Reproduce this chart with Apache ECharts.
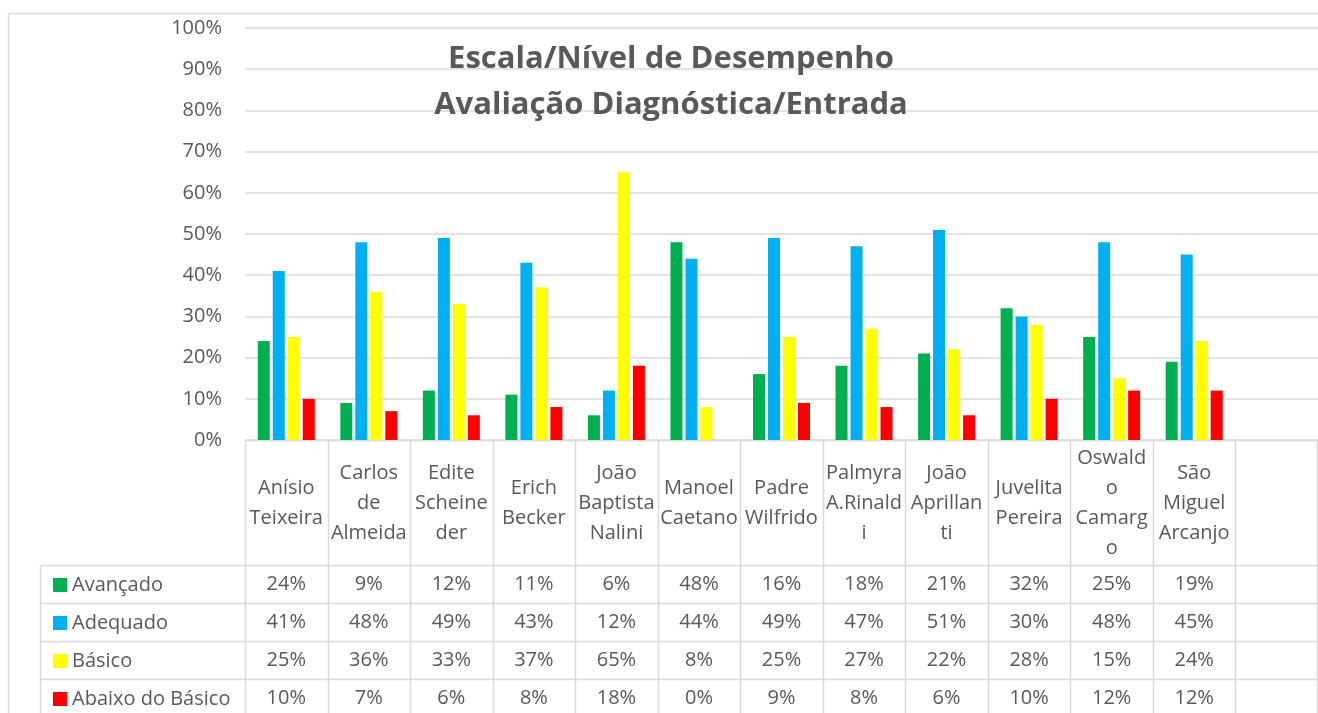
<!DOCTYPE html>
<html>
<head>
<meta charset="utf-8">
<script src="https://cdn.jsdelivr.net/npm/echarts@6/dist/echarts.min.js"></script>
<style>
html, body { margin: 0; padding: 0; background: #fff; }
#chart { width: 1318px; height: 713px; }
</style>
</head>
<body>
<div id="chart"></div>
<script>
// categories (last slot is empty, as in the original sheet)
var schools = ['Anísio\nTeixeira', 'Carlos\nde\nAlmeida', 'Edite\nScheine\nder', 'Erich\nBecker',
  'João\nBaptista\nNalini', 'Manoel\nCaetano', 'Padre\nWilfrido', 'Palmyra\nA.Rinald\ni',
  'João\nAprillan\nti', 'Juvelita\nPereira', 'Oswald\no\nCamarg\no', 'São\nMiguel\nArcanjo', ''];
var avancado = [24, 9, 12, 11, 6, 48, 16, 18, 21, 32, 25, 19];
var adequado = [41, 48, 49, 43, 12, 44, 49, 47, 51, 30, 48, 45];
var basico   = [25, 36, 33, 37, 65, 8, 25, 27, 22, 28, 15, 24];
var abaixo   = [10, 7, 6, 8, 18, 0, 9, 8, 6, 10, 12, 12];
var levels = ['Avançado', 'Adequado', 'Básico', 'Abaixo do Básico'];
var colors = ['#00B050', '#00B0F0', '#FFFF00', '#FF0000'];
var titleLines = ['Escala/Nível de Desempenho', 'Avaliação Diagnóstica/Entrada'];

var FONT = 'Open Sans';
var TXT = '#595959';
var LINE = '#d9d9d9';

var chart = echarts.init(document.getElementById('chart'));
var allSeries = [avancado, adequado, basico, abaixo];

var option = {
  animation: false,
  backgroundColor: '#fff',
  grid: { left: 245, right: 0, top: 28, bottom: 273 },
  legend: {
    orient: 'vertical',
    left: 48,
    top: 570,
    height: 180,
    itemWidth: 14,
    itemHeight: 14,
    itemGap: 18,
    icon: 'rect',
    selectedMode: false,
    textStyle: { fontFamily: FONT, fontSize: 20, color: TXT },
    data: levels
  },
  xAxis: {
    type: 'category',
    data: schools,
    axisLine: { show: false },
    axisTick: { show: false },
    axisLabel: { show: false }
  },
  yAxis: {
    type: 'value',
    min: 0,
    max: 100,
    interval: 10,
    axisLine: { show: false },
    axisTick: { show: false },
    axisLabel: { formatter: '{value}%', fontFamily: FONT, fontSize: 20, color: TXT, margin: 23 },
    splitLine: { lineStyle: { color: LINE, width: 1.5 } }
  },
  series: levels.map(function (name, i) {
    return {
      name: name,
      type: 'bar',
      barWidth: 12,
      barGap: '25%',
      itemStyle: { color: colors[i] },
      data: allSeries[i]
    };
  })
};
chart.setOption(option);

// data table + title drawn as graphics, positioned from the category axis
var step = chart.convertToPixel({ xAxisIndex: 0 }, 1) - chart.convertToPixel({ xAxisIndex: 0 }, 0);
var rowY = [440, 565, 603, 641, 679, 717];
var right = 1318;
var g = [];
function hline(x1, x2, y) {
  g.push({ type: 'line', shape: { x1: x1, y1: y + 0.5, x2: x2, y2: y + 0.5 }, style: { stroke: LINE, lineWidth: 1.5 }, silent: true });
}
function vline(x, y1, y2) {
  g.push({ type: 'line', shape: { x1: x + 0.5, y1: y1, x2: x + 0.5, y2: y2 }, style: { stroke: LINE, lineWidth: 1.5 }, silent: true });
}
// outer chart frame
hline(8, right, 13);
vline(8, 13, 713);
// table grid
hline(245, right, rowY[0]);
for (var r = 1; r < rowY.length - 1; r++) hline(40, right, rowY[r]);
vline(40, rowY[1], 713);
schools.forEach(function (name, i) {
  var cx = chart.convertToPixel({ xAxisIndex: 0 }, i);
  var x0 = Math.round(cx - step / 2);
  vline(x0, rowY[0], 713);
  if (i === schools.length - 1) vline(Math.round(cx + step / 2) - 1, rowY[0], 713);
  g.push({
    type: 'text', x: cx, y: (rowY[0] + rowY[1]) / 2 + 1, silent: true,
    style: { text: name, align: 'center', verticalAlign: 'middle', fontFamily: FONT, fontSize: 20, lineHeight: 30, fill: TXT }
  });
  allSeries.forEach(function (vals, k) {
    if (vals[i] == null) return;
    g.push({
      type: 'text', x: cx, y: (rowY[k + 1] + rowY[k + 2]) / 2, silent: true,
      style: { text: vals[i] + '%', align: 'center', verticalAlign: 'middle', fontFamily: FONT, fontSize: 20, fill: TXT }
    });
  });
});
// title
titleLines.forEach(function (t, i) {
  g.push({
    type: 'text', x: 671, y: 59 + i * 46, silent: true,
    style: { text: t, align: 'center', verticalAlign: 'middle', fontFamily: FONT, fontWeight: 'bold', fontSize: 31, fill: TXT }
  });
});
chart.setOption({ graphic: g });
</script>
</body>
</html>
